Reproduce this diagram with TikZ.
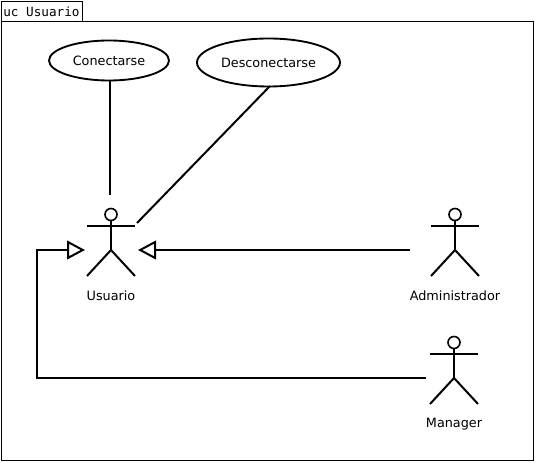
\documentclass[tikz,border=0pt]{standalone}
\usepackage{fontspec}
\setmainfont{DejaVu Sans}
\setmonofont{DejaVu Sans Mono}
\usetikzlibrary{shapes.geometric,arrows.meta}
\tikzset{
  label/.style={font=\fontsize{9.6pt}{11pt}\selectfont, inner sep=0pt},
  frame/.style={draw, line width=0.75pt, inner sep=0pt},
  usecase/.style={draw, ellipse, line width=1.4pt, inner sep=0pt, font=\fontsize{9.6pt}{11pt}\selectfont},
  head/.style={draw, circle, line width=1.2pt, inner sep=0pt, minimum size=9pt},
  limb/.style={line width=1.5pt},
  link/.style={line width=1.5pt},
  gen/.style={line width=1.5pt, -{Triangle[open,length=13.5pt,width=14pt,line width=1.5pt]}},
}
\begin{document}
\begin{tikzpicture}[x=0.75pt,y=-0.75pt]
\useasboundingbox (0,0) rectangle (535,463);
\node[frame, minimum width=399pt, minimum height=329.25pt] (diagram) at (267,241){};
\node[frame, minimum width=60.75pt, minimum height=15pt, font=\ttfamily\fontsize{9.5pt}{11pt}\selectfont] (tab) at (41.5,11.5){uc Usuario};
\node[usecase, minimum width=90pt, minimum height=30pt] (conectarse) at (109,60.5){Conectarse};
\node[usecase, minimum width=107.25pt, minimum height=36pt] (desconectarse) at (268.5,62.5){Desconectarse};
% Usuario
\node[head] (uhead) at (111,214.5){};
\coordinate (uhip) at (111,250);
\coordinate (ularm) at (87,226);
\coordinate (urarm) at (135,226);
\coordinate (ulleg) at (87,276);
\coordinate (urleg) at (135,276);
\node[label] (usuario) at (111,296){Usuario};
\draw[limb](uhead) -- (uhip);
\draw[limb](ularm) -- (urarm);
\draw[limb](ulleg) -- (uhip) -- (urleg);
% Administrador
\node[head] (ahead) at (455,214.5){};
\coordinate (ahip) at (455,250);
\coordinate (alarm) at (431,226);
\coordinate (ararm) at (479,226);
\coordinate (alleg) at (431,276);
\coordinate (arleg) at (479,276);
\node[label] (administrador) at (455,296){Administrador};
\draw[limb](ahead) -- (ahip);
\draw[limb](alarm) -- (ararm);
\draw[limb](alleg) -- (ahip) -- (arleg);
% Manager
\node[head] (mhead) at (454,342.5){};
\coordinate (mhip) at (454,378);
\coordinate (mlarm) at (430,354);
\coordinate (mrarm) at (478,354);
\coordinate (mlleg) at (430,404);
\coordinate (mrleg) at (478,404);
\node[label] (manager) at (454,424){Manager};
\draw[limb](mhead) -- (mhip);
\draw[limb](mlarm) -- (mrarm);
\draw[limb](mlleg) -- (mhip) -- (mrleg);
% connectors
\coordinate (ctop) at (110,195);
\coordinate (cbot) at (110,80);
\coordinate (dend) at (137,223);
\coordinate (dbot) at (270,86);
\coordinate (aend) at (410,250);
\coordinate (utipr) at (138,250);
\coordinate (mend) at (426,378);
\coordinate (mcorner) at (37,378);
\coordinate (ucorner) at (37,250);
\coordinate (utipl) at (85,250);
\draw[link](cbot) -- (ctop);
\draw[link](dbot) -- (dend);
\draw[gen](aend) -- (utipr);
\draw[gen](mend) -- (mcorner) -- (ucorner) -- (utipl);
\end{tikzpicture}
\end{document}
